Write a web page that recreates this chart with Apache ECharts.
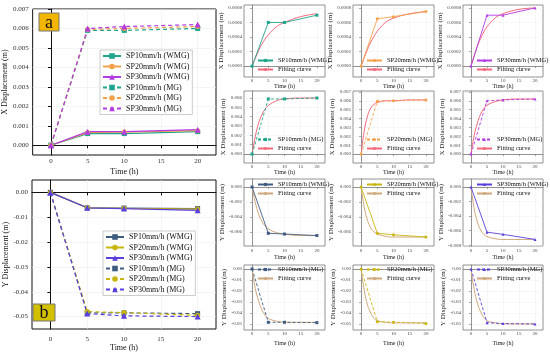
<!DOCTYPE html>
<html><head><meta charset="utf-8">
<script src="https://cdn.jsdelivr.net/npm/echarts@6/dist/echarts.min.js"></script>
<style>
html,body{margin:0;padding:0;background:#fff;width:550px;height:353px;overflow:hidden;position:relative}
.c{position:absolute;left:0;top:0;width:550px;height:353px}
</style>
</head><body>
<script>
// ---------------- DATA ----------------
const timeH = [0, 5, 10, 20];
const xTicks = [0, 5, 10, 15, 20];

// Panel a: X displacement (m)
const xWMG_SP10 = [0, 0.00060, 0.00060, 0.00070];
const xWMG_SP20 = [0, 0.00065, 0.00068, 0.00075];
const xWMG_SP30 = [0, 0.00070, 0.00070, 0.00080];
const xMG_SP10  = [0, 0.00590, 0.00590, 0.00600];
const xMG_SP20  = [0, 0.00595, 0.00600, 0.00610];
const xMG_SP30  = [0, 0.00600, 0.00610, 0.00620];

// Panel b: Y displacement (m)
const yWMG_SP10 = [0, -0.0062, -0.0063, -0.0065];
const yWMG_SP20 = [0, -0.0062, -0.0064, -0.0067];
const yWMG_SP30 = [0, -0.0062, -0.0065, -0.0072];
const yMG_SP10  = [0, -0.0485, -0.0485, -0.0488];
const yMG_SP20  = [0, -0.0480, -0.0484, -0.0495];
const yMG_SP30  = [0, -0.0488, -0.0497, -0.0500];

const fitT = [0, 1, 2, 3, 4, 5, 7.5, 10, 15, 20];
const fitXWMG10 = [0, 0.00011, 0.00021, 0.00030, 0.00037, 0.00043, 0.00054, 0.00060, 0.00068, 0.00072];
const fitXWMG20 = [0, 0.00012, 0.00023, 0.00033, 0.00041, 0.00048, 0.00060, 0.00066, 0.00072, 0.00075];
const fitXWMG30 = [0, 0.00014, 0.00027, 0.00038, 0.00047, 0.00054, 0.00066, 0.00072, 0.00078, 0.00080];
const fitXMG10  = [0, 0.0019, 0.0033, 0.0042, 0.0048, 0.0052, 0.0057, 0.0059, 0.0060, 0.0060];
const fitXMG20  = [0, 0.0027, 0.0043, 0.0052, 0.0056, 0.0058, 0.0060, 0.0060, 0.0061, 0.0061];
const fitXMG30  = [0, 0.0021, 0.0035, 0.0045, 0.0051, 0.0055, 0.0059, 0.0061, 0.0062, 0.0062];
const fitYWMG10 = [0, -0.0021, -0.0036, -0.0046, -0.0052, -0.0056, -0.0061, -0.0063, -0.0065, -0.0065];
const fitYWMG20 = [0, -0.0028, -0.0045, -0.0055, -0.0060, -0.0063, -0.0066, -0.0067, -0.0067, -0.0067];
const fitYWMG30 = [0, -0.0030, -0.0048, -0.0059, -0.0065, -0.0068, -0.0071, -0.0072, -0.0072, -0.0072];
const fitYMG10  = [0, -0.018, -0.029, -0.037, -0.042, -0.045, -0.0475, -0.0483, -0.0485, -0.0485];
const fitYMG20  = [0, -0.020, -0.033, -0.040, -0.045, -0.047, -0.0485, -0.0490, -0.0490, -0.0490];
const fitYMG30  = [0, -0.019, -0.031, -0.039, -0.044, -0.047, -0.0490, -0.0497, -0.0500, -0.0500];

const namesX = ['SP10mm/h (WMG)', 'SP20mm/h (WMG)', 'SP30mm/h (WMG)', 'SP10mm/h (MG)', 'SP20mm/h (MG)', 'SP30mm/h (MG)'];
const yTicksA = [0, 0.001, 0.002, 0.003, 0.004, 0.005, 0.006, 0.007];
const yTicksB = [0, -0.01, -0.02, -0.03, -0.04, -0.05];

// ---------------- STYLE ----------------
const FONT = '"Liberation Serif","Times New Roman",serif';
const colX = ['#1fa58b', '#f5a04a', '#b23be3'];
const colY = ['#3f5c80', '#c9b60c', '#5a3fdc'];
const syms = ['rect', 'circle', 'triangle'];
const fitColX = '#f2687a';
const fitColY = '#cfa77a';

function pairs(xs, ys) { return xs.map((x, i) => [x, ys[i]]); }

function mk(opt) {
  const d = document.createElement('div');
  d.className = 'c';
  document.body.appendChild(d);
  const ch = echarts.init(d, null, { renderer: 'canvas', width: 550, height: 353 });
  ch.setOption(opt);
}

function bigChart(cfg) {
  const series = [];
  cfg.data.forEach((arr, i) => {
    const c = cfg.colors[i % 3];
    series.push({
      name: namesX[i], type: 'line', data: pairs(timeH, arr),
      symbol: syms[i % 3], symbolSize: i % 3 === 2 ? 6 : 5,
      lineStyle: { color: c, width: 1.2, type: i >= 3 ? [4, 3] : 'solid' },
      itemStyle: { color: c }, z: 3
    });
  });
  return {
    animation: false,
    textStyle: { fontFamily: FONT },
    grid: { left: 32, top: cfg.top, width: 184, height: cfg.height, show: true, borderColor: '#111', borderWidth: 1 },
    xAxis: {
      type: 'value', min: -2.5, max: 22.5,
      name: 'Time (h)', nameLocation: 'middle', nameGap: cfg.xNameGap,
      nameTextStyle: { fontFamily: FONT, fontSize: 8, color: '#111' },
      axisLine: { show: true, lineStyle: { color: '#111' } },
      axisTick: { show: true, customValues: xTicks, length: 3, lineStyle: { color: '#111' } },
      axisLabel: { customValues: xTicks, fontFamily: FONT, fontSize: 7, color: '#333', margin: cfg.xLabelMargin },
      splitLine: { show: true, lineStyle: { color: '#ececec', width: 0.6 } }
    },
    yAxis: {
      type: 'value', min: cfg.yMin, max: cfg.yMax,
      name: cfg.yName, nameLocation: 'middle', nameGap: 20,
      nameTextStyle: { fontFamily: FONT, fontSize: 8, color: '#111' },
      axisLine: { show: true, lineStyle: { color: '#111' } },
      axisTick: { show: true, customValues: cfg.yTicks, length: 3, lineStyle: { color: '#111' } },
      axisLabel: { customValues: cfg.yTicks, fontFamily: FONT, fontSize: 7, color: '#333', margin: 4,
        formatter: v => v.toFixed(cfg.dec) },
      splitLine: { show: true, lineStyle: { color: '#ececec', width: 0.6 } }
    },
    legend: {
      orient: 'vertical', left: cfg.legLeft, top: cfg.legTop,
      itemWidth: 18, itemHeight: 7, itemGap: 2.5,
      textStyle: { fontFamily: FONT, fontSize: 8, color: '#111' },
      backgroundColor: '#fff', borderColor: '#aaa', borderWidth: 0.6, padding: [2, 3, 2, 2],
      data: namesX
    },
    graphic: [
      { type: 'rect', shape: { x: cfg.box[0], y: cfg.box[1], width: cfg.box[2], height: cfg.box[3] },
        style: { fill: cfg.boxFill, stroke: '#777', lineWidth: 1 }, z: 10 },
      { type: 'text', x: cfg.box[0] + cfg.box[2] / 2, y: cfg.box[1] + cfg.box[3] / 2 + 1,
        style: { text: cfg.label, fontFamily: FONT, fontSize: 18, fill: '#111', align: 'center', verticalAlign: 'middle' }, z: 11 }
    ],
    series
  };
}

mk(bigChart({
  top: 9, height: 146, yMin: -0.0005, yMax: 0.007, yTicks: yTicksA, dec: 3,
  yName: 'X Displacement (m)', xNameGap: 13, xLabelMargin: 3,
  data: [xWMG_SP10, xWMG_SP20, xWMG_SP30, xMG_SP10, xMG_SP20, xMG_SP30], colors: colX,
  legLeft: 100, legTop: 50, box: [39, 13, 20, 18], boxFill: '#f2b600', label: 'a'
}));
mk(bigChart({
  top: 180, height: 149, yMin: -0.055, yMax: 0.005, yTicks: yTicksB, dec: 2,
  yName: 'Y Displacement (m)', xNameGap: 14, xLabelMargin: 7,
  data: [yWMG_SP10, yWMG_SP20, yWMG_SP30, yMG_SP10, yMG_SP20, yMG_SP30], colors: colY,
  legLeft: 103, legTop: 231, box: [33, 304, 22, 17], boxFill: '#d3c000', label: 'b'
}));

// ---------------- SMALL PANELS ----------------
const rowGeom = [
  { top: 5, h: 72, lab: 1, nameGap: 6, legTop: 52 },
  { top: 91, h: 72, lab: 1, nameGap: 6, legTop: 45 },
  { top: 179, h: 67, lab: 2.5, nameGap: 8, legTop: 2 },
  { top: 265, h: 65, lab: 1.5, nameGap: 10, legTop: 1 }
];
const colGeom = [{ left: 244, w: 81 }, { left: 353, w: 81 }, { left: 463, w: 80 }];

const rowsCfg = [
  { yName: 'X Displacement (m)', data: [xWMG_SP10, xWMG_SP20, xWMG_SP30], fit: [fitXWMG10, fitXWMG20, fitXWMG30],
    names: ['SP10mm/h (WMG)', 'SP20mm/h (WMG)', 'SP30mm/h (WMG)'], colors: colX, fitCol: fitColX, dashed: false, dec: 4,
    ranges: [[-0.00015, 0.00084], [-0.00015, 0.00084], [-0.00015, 0.00084]],
    ticks: [[0, 0.0002, 0.0004, 0.0006, 0.0008], [0, 0.0002, 0.0004, 0.0006, 0.0008], [0, 0.0002, 0.0004, 0.0006, 0.0008]] },
  { yName: 'X Displacement (m)', data: [xMG_SP10, xMG_SP20, xMG_SP30], fit: [fitXMG10, fitXMG20, fitXMG30],
    names: ['SP10mm/h (MG)', 'SP20mm/h (MG)', 'SP30mm/h (MG)'], colors: colX, fitCol: fitColX, dashed: true, dec: 3,
    ranges: [[-0.00096, 0.00675], [-0.001, 0.0071], [-0.001, 0.0071]],
    ticks: [[0, 0.001, 0.002, 0.003, 0.004, 0.005, 0.006], [0, 0.001, 0.002, 0.003, 0.004, 0.005, 0.006, 0.007], [0, 0.001, 0.002, 0.003, 0.004, 0.005, 0.006, 0.007]] },
  { yName: 'Y Displacement (m)', data: [yWMG_SP10, yWMG_SP20, yWMG_SP30], fit: [fitYWMG10, fitYWMG20, fitYWMG30],
    names: ['SP10mm/h (WMG)', 'SP20mm/h (WMG)', 'SP30mm/h (WMG)'], colors: colY, fitCol: fitColY, dashed: false, dec: 3,
    ranges: [[-0.0079, 0.00107], [-0.0079, 0.00107], [-0.0081, 0.0011]],
    ticks: [[0, -0.002, -0.004, -0.006], [0, -0.002, -0.004, -0.006], [0, -0.002, -0.004, -0.006, -0.008]] },
  { yName: 'Y Displacement (m)', data: [yMG_SP10, yMG_SP20, yMG_SP30], fit: [fitYMG10, fitYMG20, fitYMG30],
    names: ['SP10mm/h (MG)', 'SP20mm/h (MG)', 'SP30mm/h (MG)'], colors: colY, fitCol: fitColY, dashed: true, dec: 2,
    ranges: [[-0.0555, 0.0036], [-0.0555, 0.0036], [-0.0555, 0.0036]],
    ticks: [[0, -0.01, -0.02, -0.03, -0.04, -0.05], [0, -0.01, -0.02, -0.03, -0.04, -0.05], [0, -0.01, -0.02, -0.03, -0.04, -0.05]] }
];

rowsCfg.forEach((rc, r) => {
  const g = rowGeom[r];
  colGeom.forEach((cg, c) => {
    const color = rc.colors[c];
    const dataName = rc.names[c];
    mk({
      animation: false,
      textStyle: { fontFamily: FONT },
      grid: { left: cg.left, top: g.top, width: cg.w, height: g.h, show: true, borderColor: '#777', borderWidth: 0.8 },
      xAxis: {
        type: 'value', min: -2.5, max: 22.5,
        name: 'Time (h)', nameLocation: 'middle', nameGap: g.nameGap,
        nameTextStyle: { fontFamily: FONT, fontSize: 6, color: '#222' },
        axisLine: { show: true, lineStyle: { color: '#777', width: 0.8 } },
        axisTick: { show: true, customValues: xTicks, length: 2, lineStyle: { color: '#777', width: 0.6 } },
        axisLabel: { customValues: xTicks, fontFamily: FONT, fontSize: 5, color: '#444', margin: g.lab },
        splitLine: { show: true, lineStyle: { color: '#efefef', width: 0.5 } }
      },
      yAxis: {
        type: 'value', min: rc.ranges[c][0], max: rc.ranges[c][1],
        name: rc.yName, nameLocation: 'middle', nameGap: 15,
        nameTextStyle: { fontFamily: FONT, fontSize: 7, color: '#222' },
        axisLine: { show: true, lineStyle: { color: '#777', width: 0.8 } },
        axisTick: { show: true, customValues: rc.ticks[c], length: 2, lineStyle: { color: '#777', width: 0.6 } },
        axisLabel: { customValues: rc.ticks[c], fontFamily: FONT, fontSize: 5, color: '#444', margin: 2,
          formatter: v => v.toFixed(rc.dec) },
        splitLine: { show: true, lineStyle: { color: '#efefef', width: 0.5 } }
      },
      legend: {
        orient: 'vertical', left: cg.left + 13, top: g.top + g.legTop,
        itemWidth: 15, itemHeight: 4, itemGap: 2, padding: 0,
        textStyle: { fontFamily: FONT, fontSize: 6.5, color: '#111' },
        data: [dataName, 'Fitting curve']
      },
      series: [
        { name: dataName, type: 'line', data: pairs(timeH, rc.data[c]),
          symbol: syms[c], symbolSize: 3,
          lineStyle: { color: color, width: 0.9, type: rc.dashed ? [3, 2] : 'solid' },
          itemStyle: { color: color }, z: 3 },
        { name: 'Fitting curve', type: 'line', data: pairs(fitT, rc.fit[c]),
          smooth: 0.4, symbol: 'none',
          lineStyle: { color: rc.fitCol, width: 1 }, itemStyle: { color: rc.fitCol }, z: 2 }
      ]
    });
  });
});
</script>
</body></html>
